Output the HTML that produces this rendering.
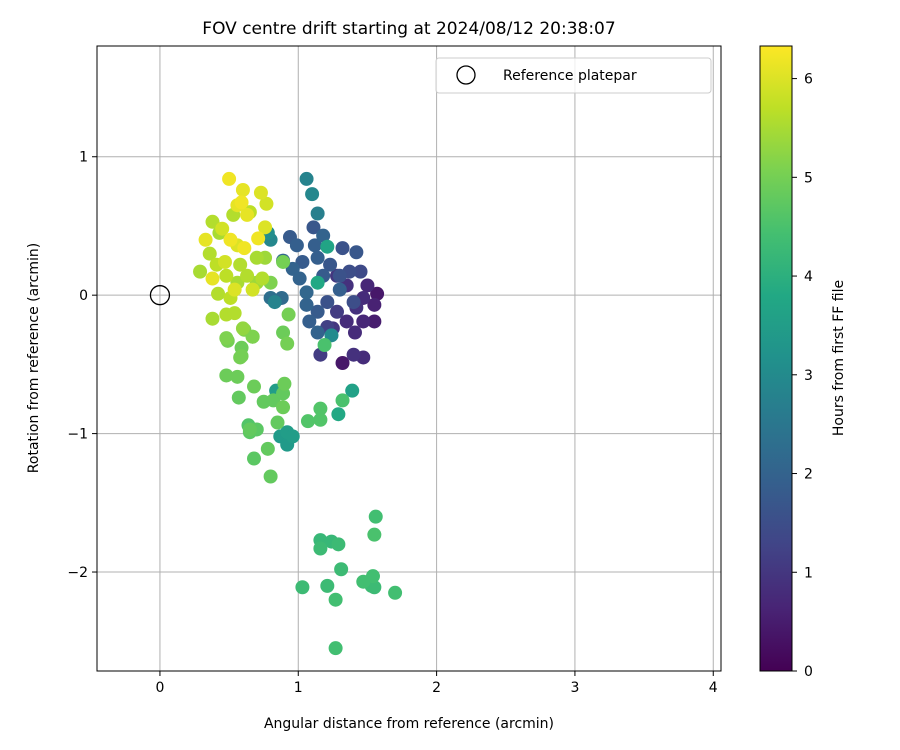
<!DOCTYPE html>
<html><head><meta charset="utf-8"><style>
html,body{margin:0;padding:0;background:#fff;}
svg{display:block;font-family:"DejaVu Sans","Liberation Sans",sans-serif;}
</style></head><body>
<svg id="chart" width="900" height="750" viewBox="0 0 900 750" xmlns="http://www.w3.org/2000/svg">
<defs>
<linearGradient id="vir" x1="0" y1="1" x2="0" y2="0">
<stop offset="0" stop-color="#440154"/><stop offset="0.1" stop-color="#482475"/><stop offset="0.2" stop-color="#414487"/><stop offset="0.3" stop-color="#355f8d"/><stop offset="0.4" stop-color="#2a788e"/><stop offset="0.5" stop-color="#21918c"/><stop offset="0.6" stop-color="#22a884"/><stop offset="0.7" stop-color="#44bf70"/><stop offset="0.8" stop-color="#7ad151"/><stop offset="0.9" stop-color="#bddf26"/><stop offset="1" stop-color="#fde725"/>
</linearGradient>
<clipPath id="plotclip"><rect x="97" y="46" width="624" height="625"/></clipPath>
</defs>
<text x="409" y="34" text-anchor="middle" font-size="17">FOV centre drift starting at 2024/08/12 20:38:07</text>
<g id="grid"></g>
<g id="points" clip-path="url(#plotclip)"></g>
<rect x="97" y="46" width="624" height="625" fill="none" stroke="#000" stroke-width="1"/>
<g id="axes"></g>
<text x="409" y="728" text-anchor="middle" font-size="14">Angular distance from reference (arcmin)</text>
<text transform="translate(38,358) rotate(-90)" text-anchor="middle" font-size="14">Rotation from reference (arcmin)</text>
<g>
<rect x="436" y="58" width="275" height="35" rx="3" fill="#fff" fill-opacity="0.8" stroke="#ccc"/>
<circle cx="466" cy="75" r="9" fill="none" stroke="#000" stroke-width="1.3"/>
<text x="503" y="80" font-size="14">Reference platepar</text>
</g>
<rect x="760" y="46" width="32" height="625" fill="url(#vir)" stroke="#000" stroke-width="1"/>
<g id="cbaxis"></g>
<text transform="translate(843,358) rotate(-90)" text-anchor="middle" font-size="14">Hours from first FF file</text>
</svg>
<script>
const xs=[0.50,0.60,0.73,0.59,0.56,0.77,0.63,0.76,0.71,0.33,0.56,0.61,0.47,0.38,0.54,0.67,0.51,0.45,
0.38,0.65,0.53,0.43,0.36,0.29,0.41,0.58,0.70,0.76,0.74,0.48,0.42,0.56,0.63,0.70,0.51,0.48,0.38,0.54,0.48,0.60,
0.89,0.80,0.93,0.89,0.92,0.67,0.59,0.58,
1.06,1.10,1.14,0.78,0.80,1.21,1.14,0.83,1.24,1.19,
0.94,0.99,1.11,1.18,1.12,1.32,1.42,0.89,0.96,1.03,1.14,1.23,1.01,1.06,1.18,1.30,1.21,0.80,0.88,1.06,1.14,1.37,1.45,1.30,1.40,1.08,1.14,
1.28,1.35,1.50,1.57,1.55,1.47,1.42,1.28,1.35,1.47,1.55,1.41,1.25,1.16,1.32,1.40,1.47,1.21,
1.03,1.27,1.21,1.27,1.31,1.16,1.16,1.24,1.29,1.47,1.53,1.54,1.55,1.70,1.55,1.56,
0.80,0.68,0.65,0.65,0.64,0.70,0.78,0.75,0.68,0.82,0.84,0.89,0.87,0.92,0.92,0.96,0.85,0.89,0.90,1.07,1.16,1.16,1.29,1.32,1.39,0.48,0.56,0.57,0.59,0.61,0.67,0.49];
const ys=[0.84,0.76,0.74,0.67,0.65,0.66,0.58,0.49,0.41,0.40,0.36,0.34,0.24,0.12,0.04,0.04,0.40,0.48,
0.53,0.60,0.58,0.45,0.30,0.17,0.22,0.22,0.27,0.27,0.12,0.14,0.01,0.09,0.14,0.09,-0.02,-0.14,-0.17,-0.13,-0.31,-0.24,
0.24,0.09,-0.14,-0.27,-0.35,-0.30,-0.38,-0.45,
0.84,0.73,0.59,0.45,0.40,0.35,0.09,-0.05,-0.29,-0.36,
0.42,0.36,0.49,0.43,0.36,0.34,0.31,0.25,0.19,0.24,0.27,0.22,0.12,0.02,0.14,0.04,-0.05,-0.02,-0.02,-0.07,-0.12,0.17,0.17,0.14,-0.05,-0.19,-0.27,
0.14,0.07,0.07,0.01,-0.07,-0.02,-0.09,-0.12,-0.19,-0.19,-0.19,-0.27,-0.24,-0.43,-0.49,-0.43,-0.45,-0.23,
-2.11,-2.55,-2.10,-2.20,-1.98,-1.77,-1.83,-1.78,-1.80,-2.07,-2.10,-2.03,-2.11,-2.15,-1.73,-1.60,
-1.31,-1.18,-0.99,-0.97,-0.94,-0.97,-1.11,-0.77,-0.66,-0.76,-0.69,-0.81,-1.02,-0.99,-1.08,-1.02,-0.92,-0.71,-0.64,-0.91,-0.82,-0.90,-0.86,-0.76,-0.69,-0.58,-0.59,-0.74,-0.44,-0.25,-0.30,-0.33];
const ts=[6.2,6.1,6.0,6.2,6.1,5.9,6.1,6.0,6.2,6.1,6.0,6.2,5.9,6.1,6.0,5.9,6.2,5.9,
5.6,5.7,5.6,5.5,5.6,5.5,5.7,5.6,5.5,5.4,5.6,5.7,5.6,5.5,5.6,5.4,5.7,5.6,5.5,5.6,5.1,5.3,
5.0,5.1,5.0,4.9,5.0,5.1,4.9,5.0,
2.8,2.9,2.7,3.1,2.9,3.7,3.8,2.8,3.0,4.5,
1.8,1.9,1.7,2.0,1.9,1.6,1.7,2.1,2.0,1.8,1.9,1.7,2.0,2.1,1.8,1.9,1.6,2.3,2.2,2.0,1.8,1.5,1.4,1.6,1.5,1.9,2.0,
1.0,0.9,0.7,0.4,0.6,0.8,0.9,1.1,0.8,0.7,0.5,0.8,1.0,1.1,0.4,0.9,0.8,1.2,
4.3,4.4,4.3,4.4,4.3,4.2,4.3,4.2,4.3,4.4,4.3,4.4,4.3,4.4,4.5,4.4,
4.8,4.7,4.7,4.8,4.6,4.7,4.8,4.8,4.9,4.8,3.5,4.9,3.4,3.5,3.4,3.5,4.8,4.8,4.9,4.6,4.6,4.6,3.8,4.5,3.6,4.9,4.9,4.8,5.0,5.1,5.0,5.0];
const xTicks=[0,1,2,3,4];
const yTicks=[1,0,-1,-2];
const cTicks=[0,1,2,3,4,5,6];
const refPoint=[0,0];

const NS="http://www.w3.org/2000/svg";
const X0=97,X1=721,Y0=46,Y1=671;
const xMin=-0.455,xMax=4.056,yMin=-2.715,yMax=1.80,cMax=6.33;
function sx(v){return X0+(v-xMin)/(xMax-xMin)*(X1-X0);}
function sy(v){return Y1-(v-yMin)/(yMax-yMin)*(Y1-Y0);}
function sc(v){return 671-v/cMax*625;}
const stops=[[68,1,84],[72,36,117],[65,68,135],[53,95,141],[42,120,142],[33,145,140],[34,168,132],[68,191,112],[122,209,81],[189,223,38],[253,231,37]];
function viridis(t){t=Math.max(0,Math.min(1,t));const f=t*10,i=Math.min(9,Math.floor(f)),r=f-i;const a=stops[i],b=stops[i+1];return 'rgb('+a.map((c,k)=>Math.round(c+(b[k]-c)*r)).join(',')+')';}
function mk(tag,attrs){const e=document.createElementNS(NS,tag);for(const k in attrs)e.setAttribute(k,attrs[k]);return e;}
const grid=document.getElementById('grid'),axes=document.getElementById('axes'),pts=document.getElementById('points'),cb=document.getElementById('cbaxis');
xTicks.forEach(v=>{const x=sx(v);
const g=mk('line',{x1:x,x2:x,y1:Y0,y2:Y1,stroke:'#b0b0b0','stroke-width':1});


grid.appendChild(g);
const t=mk('line',{x1:x,x2:x,y1:Y1,y2:Y1+5,stroke:'#000'});


axes.appendChild(t);
const l=mk('text',{x:x,y:Y1+21,'text-anchor':'middle','font-size':14});l.textContent=String(v);


axes.appendChild(l);});
yTicks.forEach(v=>{const y=sy(v);
const g=mk('line',{x1:X0,x2:X1,y1:y,y2:y,stroke:'#b0b0b0','stroke-width':1});


grid.appendChild(g);
const t=mk('line',{x1:X0-5,x2:X0,y1:y,y2:y,stroke:'#000'});


axes.appendChild(t);
const l=mk('text',{x:X0-9,y:y+5,'text-anchor':'end','font-size':14});l.textContent=v<0?'\u2212'+Math.abs(v):String(v);


axes.appendChild(l);});
const idx=ts.map((t,i)=>i).sort((a,b)=>ts[a]-ts[b]);
idx.forEach(i=>{const c=mk('circle',{cx:sx(xs[i]),cy:sy(ys[i]),r:7,fill:viridis(ts[i]/cMax)});


pts.appendChild(c);});
const ref=mk('circle',{cx:sx(refPoint[0]),cy:sy(refPoint[1]),r:9.5,fill:'none',stroke:'#000','stroke-width':1.3});


pts.appendChild(ref);
cTicks.forEach(v=>{const y=sc(v);
const t=mk('line',{x1:792,x2:797,y1:y,y2:y,stroke:'#000'});


cb.appendChild(t);
const l=mk('text',{x:804,y:y+5,'font-size':14});l.textContent=String(v);


cb.appendChild(l);});
</script>
</body></html>
